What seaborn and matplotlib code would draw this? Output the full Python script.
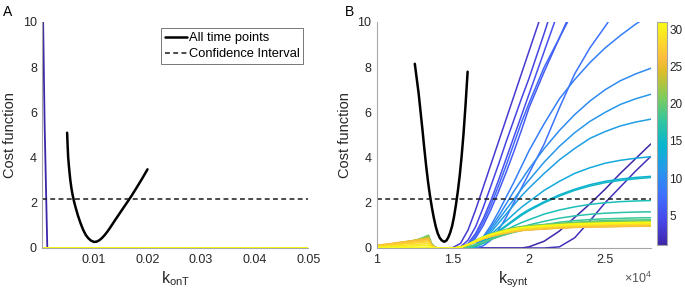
import numpy as np
import pandas as pd
import matplotlib
matplotlib.use("Agg")
import matplotlib.pyplot as plt
import seaborn as sns
from matplotlib.colors import LinearSegmentedColormap, Normalize
from matplotlib.cm import ScalarMappable
from matplotlib.lines import Line2D

# ---------------- data ----------------
time_points = list(range(1, 32))
ci_level = 2.15

# Panel A: k_onT profile (all time points) and per-time-point curves
konT_all = [0.0050, 0.0051, 0.0052, 0.0054, 0.0056, 0.0058, 0.0060, 0.0063, 0.0066,
            0.0070, 0.0075, 0.0080, 0.0085, 0.0090, 0.0095, 0.0100, 0.0105, 0.0110,
            0.0115, 0.0120, 0.0125, 0.0130, 0.0140, 0.0150, 0.0160, 0.0170, 0.0180,
            0.0190, 0.0200]
cost_A_all = [5.10, 4.50, 4.00, 3.45, 3.00, 2.65, 2.38, 2.05, 1.78,
              1.45, 1.10, 0.80, 0.57, 0.42, 0.32, 0.27, 0.28, 0.34,
              0.44, 0.57, 0.72, 0.89, 1.25, 1.60, 1.95, 2.30, 2.68,
              3.07, 3.48]
konT_grid = [0.0004, 0.0008, 0.0013, 0.0500]
cost_A_t1 = [12.0, 5.5, 0.0, 0.0]
cost_A_other = [0.0, 0.0, 0.0, 0.0]

# Panel B: k_synt profile (all time points)
ksynt_all = [12500, 12625, 12750, 12875, 13000, 13125, 13250, 13375, 13500, 13625,
             13750, 13875, 14000, 14125, 14250, 14375, 14460, 14575, 14700, 14825,
             14950, 15075, 15200, 15325, 15450, 15575, 15700, 15835, 15970]
cost_B_all = [8.15, 7.5, 6.85, 6.05, 5.25, 4.4, 3.6, 2.9, 2.3, 1.78,
              1.33, 0.95, 0.66, 0.46, 0.35, 0.29, 0.28, 0.33, 0.47, 0.68,
              0.97, 1.38, 1.9, 2.5, 3.2, 4.05, 5.05, 6.35, 7.8]

# Panel B: per-time-point curves on a shared k_synt grid
ksynt = [10000, 10500, 11000, 11500, 12000, 12500, 13000, 13400, 13600, 13800,
         14000, 14500, 15000, 15500, 16000, 16500, 17000, 17500, 18000, 18500, 19000, 19500, 20000,
         21000, 22000, 23000, 24000, 25000, 26000, 27000, 28000]
ksynt_ticks = [10000, 15000, 20000, 25000]
ksynt_tick_labels = ["1", "1.5", "2", "2.5"]

cost_B_early = [
    # t1
    [0, 0, 0, 0, 0, 0, 0, 0, 0, 0,
     0, 0, 0, 0, 0, 0, 0, 0, 0, 0, 0, 0, 0.05,
     0.3, 0.75, 1.35, 1.95, 2.6, 3.3, 3.95, 4.6],
    # t2
    [0, 0, 0, 0, 0, 0, 0, 0, 0, 0,
     0, 0, 0, 0, 0, 0, 0, 0, 0, 0, 0, 0, 0,
     0, 0.05, 0.45, 1.2, 2.0, 2.7, 3.4, 4.05],
    # t3
    [0, 0, 0, 0, 0, 0, 0, 0, 0, 0,
     0, 0, 0.02, 0.2, 0.8, 1.7, 2.7, 3.7, 4.7, 5.7, 6.7, 7.7, 8.7,
     10.7, 12.7, 14.7, 16.7, 18.7, 20.7, 22.7, 24.7],
    # t4
    [0, 0, 0, 0, 0, 0, 0, 0, 0, 0,
     0, 0, 0, 0.05, 0.35, 0.95, 1.8, 2.75, 3.7, 4.7, 5.65, 6.6, 7.5,
     9.5, 11.6, 13.7, 15.8, 17.9, 20.0, 22.1, 24.2],
    # t5
    [0, 0, 0, 0, 0, 0, 0, 0, 0, 0,
     0, 0, 0, 0.02, 0.2, 0.65, 1.3, 2.1, 3.0, 3.95, 4.9, 5.85, 6.8,
     8.7, 10.6, 12.5, 14.4, 16.3, 18.2, 20.1, 22.0],
    # t6
    [0, 0, 0, 0, 0, 0, 0, 0, 0, 0,
     0, 0, 0, 0, 0.1, 0.45, 1.0, 1.7, 2.5, 3.35, 4.25, 5.2, 6.2,
     7.8, 9.3, 10.8, 12.3, 13.8, 15.3, 16.8, 18.3],
    # t7
    [0, 0, 0, 0, 0, 0, 0, 0, 0, 0,
     0, 0, 0, 0, 0.15, 0.55, 1.15, 1.9, 2.75, 3.65, 4.6, 5.55, 6.4,
     8.0, 9.3, 10.6, 11.8, 13.0, 14.2, 15.4, 16.6],
    # t8
    [0, 0, 0, 0, 0, 0, 0, 0, 0, 0,
     0, 0, 0, 0, 0, 0, 0.1, 0.35, 0.8, 1.35, 2.0, 2.65, 3.3,
     4.6, 6.2, 7.7, 8.85, 9.8, 10.8, 11.8, 12.8],
    # t9
    [0, 0, 0, 0, 0, 0, 0, 0, 0, 0,
     0, 0, 0, 0, 0, 0.15, 0.5, 1.0, 1.6, 2.25, 2.9, 3.6, 4.3,
     5.5, 6.6, 7.45, 8.2, 8.85, 9.4, 9.9, 10.35],
]

cost_B_mid = [
    # t10
    [0, 0, 0, 0, 0, 0, 0, 0, 0, 0,
     0, 0, 0, 0, 0, 0.15, 0.45, 0.9, 1.4, 1.95, 2.5, 3.0, 3.5,
     4.4, 5.2, 5.9, 6.5, 7.0, 7.4, 7.7, 7.95],
    # t11
    [0, 0, 0, 0, 0, 0, 0, 0, 0, 0,
     0, 0, 0, 0, 0, 0.12, 0.4, 0.8, 1.25, 1.7, 2.15, 2.6, 3.0,
     3.8, 4.5, 5.1, 5.6, 6.0, 6.35, 6.6, 6.8],
    # t12
    [0, 0, 0, 0, 0, 0, 0, 0, 0, 0,
     0, 0, 0, 0, 0, 0.1, 0.35, 0.7, 1.1, 1.5, 1.9, 2.3, 2.65,
     3.3, 3.9, 4.4, 4.85, 5.15, 5.4, 5.57, 5.7],
    # t13
    [0, 0, 0, 0, 0, 0, 0, 0, 0, 0,
     0, 0, 0, 0, 0, 0.1, 0.3, 0.6, 0.9, 1.2, 1.5, 1.8, 2.05,
     2.55, 2.95, 3.3, 3.55, 3.75, 3.88, 3.97, 4.04],
    # t14
    [0, 0, 0, 0, 0, 0, 0, 0, 0, 0,
     0, 0, 0, 0, 0, 0.08, 0.25, 0.5, 0.75, 1.0, 1.25, 1.5, 1.7,
     2.05, 2.35, 2.6, 2.8, 2.95, 3.05, 3.12, 3.17],
    # t15
    [0, 0, 0, 0, 0, 0, 0, 0, 0, 0,
     0, 0, 0, 0, 0, 0.07, 0.23, 0.47, 0.72, 0.96, 1.2, 1.44, 1.65,
     2.0, 2.3, 2.55, 2.74, 2.89, 2.99, 3.06, 3.12],
    # t16
    [0, 0, 0, 0, 0, 0, 0, 0, 0, 0,
     0, 0, 0, 0, 0, 0.07, 0.2, 0.4, 0.6, 0.8, 0.97, 1.12, 1.25,
     1.5, 1.68, 1.82, 1.93, 2.0, 2.05, 2.08, 2.1],
    # t17
    [0, 0, 0, 0, 0, 0, 0, 0, 0, 0,
     0, 0, 0, 0, 0.03, 0.1, 0.22, 0.38, 0.52, 0.67, 0.8, 0.92, 1.02,
     1.18, 1.32, 1.42, 1.49, 1.54, 1.57, 1.59, 1.6],
    # t18
    [0, 0, 0, 0, 0, 0, 0, 0, 0, 0,
     0, 0, 0, 0, 0.05, 0.13, 0.25, 0.38, 0.5, 0.62, 0.72, 0.82, 0.9,
     1.03, 1.14, 1.21, 1.26, 1.29, 1.31, 1.33, 1.34],
    # t19
    [0, 0, 0, 0, 0, 0, 0, 0, 0, 0,
     0, 0, 0, 0, 0.06, 0.15, 0.27, 0.39, 0.5, 0.6, 0.69, 0.77, 0.84,
     0.96, 1.06, 1.13, 1.18, 1.21, 1.23, 1.24, 1.25],
]

cost_B_late = [
    # t20
    [0.03, 0.07, 0.12, 0.18, 0.25, 0.33, 0.45, 0.57, 0.2, 0.05,
     0, 0, 0, 0.04, 0.17, 0.34, 0.5, 0.63, 0.73, 0.82, 0.9, 0.95, 0.99,
     1.04, 1.09, 1.12, 1.15, 1.17, 1.18, 1.19, 1.2],
    # t21
    [0.04, 0.08, 0.13, 0.19, 0.26, 0.33, 0.43, 0.52, 0.18, 0.04,
     0, 0, 0, 0.04, 0.16, 0.33, 0.49, 0.61, 0.71, 0.8, 0.87, 0.93, 0.96,
     1.02, 1.06, 1.09, 1.12, 1.14, 1.15, 1.16, 1.17],
    # t22
    [0.05, 0.09, 0.14, 0.2, 0.26, 0.33, 0.41, 0.48, 0.16, 0.04,
     0, 0, 0, 0.03, 0.16, 0.32, 0.48, 0.6, 0.69, 0.78, 0.85, 0.9, 0.94,
     0.99, 1.03, 1.07, 1.09, 1.11, 1.12, 1.13, 1.14],
    # t23
    [0.08, 0.12, 0.17, 0.22, 0.28, 0.34, 0.4, 0.46, 0.15, 0.03,
     0, 0, 0, 0.03, 0.14, 0.28, 0.42, 0.52, 0.61, 0.68, 0.75, 0.79, 0.82,
     0.87, 0.91, 0.93, 0.95, 0.97, 0.98, 0.99, 1.0],
    # t24
    [0.1, 0.14, 0.19, 0.24, 0.29, 0.34, 0.39, 0.44, 0.14, 0.03,
     0, 0, 0, 0.03, 0.14, 0.28, 0.41, 0.51, 0.6, 0.67, 0.73, 0.78, 0.81,
     0.85, 0.89, 0.92, 0.94, 0.95, 0.96, 0.97, 0.98],
    # t25
    [0.12, 0.16, 0.2, 0.25, 0.29, 0.34, 0.38, 0.42, 0.13, 0.02,
     0, 0, 0, 0.03, 0.14, 0.27, 0.41, 0.51, 0.59, 0.66, 0.72, 0.77, 0.8,
     0.84, 0.88, 0.91, 0.93, 0.94, 0.95, 0.96, 0.97],
    # t26
    [0.12, 0.15, 0.19, 0.23, 0.27, 0.31, 0.35, 0.39, 0.12, 0.02,
     0, 0, 0, 0.03, 0.14, 0.28, 0.41, 0.51, 0.6, 0.67, 0.73, 0.78, 0.81,
     0.85, 0.89, 0.92, 0.94, 0.95, 0.96, 0.97, 0.98],
    # t27
    [0.1, 0.13, 0.16, 0.2, 0.23, 0.27, 0.3, 0.34, 0.1, 0.02,
     0, 0, 0, 0.03, 0.14, 0.28, 0.42, 0.52, 0.61, 0.68, 0.75, 0.79, 0.82,
     0.87, 0.91, 0.93, 0.95, 0.97, 0.98, 0.99, 1.0],
    # t28
    [0.08, 0.1, 0.13, 0.16, 0.19, 0.22, 0.25, 0.28, 0.08, 0.01,
     0, 0, 0, 0.03, 0.15, 0.29, 0.44, 0.55, 0.64, 0.71, 0.78, 0.83, 0.86,
     0.91, 0.95, 0.98, 1.0, 1.02, 1.03, 1.04, 1.05],
    # t29
    [0.05, 0.07, 0.09, 0.11, 0.13, 0.15, 0.18, 0.2, 0.06, 0.01,
     0, 0, 0, 0.03, 0.15, 0.3, 0.45, 0.57, 0.66, 0.73, 0.8, 0.86, 0.89,
     0.94, 0.98, 1.01, 1.03, 1.05, 1.06, 1.07, 1.08],
    # t30
    [0.03, 0.04, 0.05, 0.06, 0.08, 0.09, 0.11, 0.12, 0.04, 0.0,
     0, 0, 0, 0.03, 0.16, 0.31, 0.47, 0.58, 0.68, 0.75, 0.82, 0.88, 0.91,
     0.96, 1.0, 1.03, 1.06, 1.08, 1.09, 1.1, 1.11],
    # t31
    [0.0, 0.01, 0.01, 0.02, 0.02, 0.03, 0.03, 0.04, 0.01, 0.0,
     0, 0, 0, 0.03, 0.16, 0.32, 0.48, 0.6, 0.69, 0.78, 0.85, 0.9, 0.94,
     0.99, 1.03, 1.07, 1.09, 1.11, 1.12, 1.13, 1.14],
]

# ---------------- style ----------------
sns.set_style("white")
plt.rcParams["font.family"] = ["Liberation Sans", "DejaVu Sans"]
plt.rcParams["mathtext.fontset"] = "custom"
plt.rcParams["mathtext.rm"] = "Liberation Sans"
plt.rcParams["mathtext.it"] = "Liberation Sans:italic"

parula_anchors = [
    (0.000, (0.2422, 0.1504, 0.6603)),
    (7 / 63, (0.2803, 0.2782, 0.9221)),
    (14 / 63, (0.2440, 0.4358, 0.9988)),
    (21 / 63, (0.1540, 0.5902, 0.9218)),
    (28 / 63, (0.0297, 0.7082, 0.8163)),
    (35 / 63, (0.1938, 0.7758, 0.6251)),
    (42 / 63, (0.5044, 0.7993, 0.3480)),
    (49 / 63, (0.8634, 0.7406, 0.1596)),
    (53 / 63, (0.9956, 0.7434, 0.2371)),
    (56 / 63, (0.9892, 0.8136, 0.1885)),
    (1.000, (0.9769, 0.9839, 0.0805)),
]
parula = LinearSegmentedColormap.from_list("parula", parula_anchors)
tnorm = Normalize(vmin=1, vmax=31)

SPINE = "#a6a6a6"
TXT = "#262626"
DASH = (0, (3.2, 2.2))

fig = plt.figure(figsize=(6.85, 2.97), dpi=100)
axA = fig.add_axes([0.062, 0.165, 0.388, 0.761])
axB = fig.add_axes([0.550, 0.165, 0.400, 0.761])
cax = fig.add_axes([0.9596, 0.175, 0.0137, 0.751])

# ---------------- panel A ----------------
rowsA = [cost_A_t1] + [cost_A_other] * (len(time_points) - 1)
dfA = pd.DataFrame({
    "konT": np.tile(konT_grid, len(time_points)),
    "cost": np.concatenate(rowsA),
    "time": np.repeat(time_points, len(konT_grid)),
})
sns.lineplot(data=dfA, x="konT", y="cost", hue="time", palette=parula, hue_norm=tnorm,
             estimator=None, sort=False, legend=False, lw=1.3, ax=axA)
sns.lineplot(x=konT_all, y=cost_A_all, color="black", lw=1.8, sort=False,
             estimator=None, ax=axA)
axA.axhline(ci_level, color="#1a1a1a", ls=DASH, lw=1.1)

axA.set_xlim(0.0004, 0.05)
axA.set_ylim(0, 10)
axA.set_xticks([0.01, 0.02, 0.03, 0.04, 0.05])
axA.set_yticks([0, 2, 4, 6, 8, 10])
axA.set_xlabel(r"$\mathregular{k_{onT}}$", fontsize=11.5, color=TXT, labelpad=3)
axA.set_ylabel("Cost function", fontsize=10.5, color=TXT, labelpad=4)

handles = [Line2D([0], [0], color="black", lw=1.8),
           Line2D([0], [0], color="#1a1a1a", lw=1.1, ls=DASH)]
leg = axA.legend(handles, ["All time points", "Confidence Interval"],
                 loc="upper right", bbox_to_anchor=(0.982, 0.972), fontsize=9.3,
                 frameon=True, fancybox=False, borderpad=0.3, labelspacing=0.3,
                 handlelength=1.7, handletextpad=0.15, borderaxespad=0)
leg.get_frame().set_edgecolor("#555555")
leg.get_frame().set_linewidth(0.7)
for t in leg.get_texts():
    t.set_color("black")

# ---------------- panel B ----------------
rowsB = cost_B_early + cost_B_mid + cost_B_late
dfB = pd.DataFrame({
    "ksynt": np.tile(ksynt, len(time_points)),
    "cost": np.concatenate(rowsB),
    "time": np.repeat(time_points, len(ksynt)),
})
sns.lineplot(data=dfB, x="ksynt", y="cost", hue="time", palette=parula, hue_norm=tnorm,
             estimator=None, sort=False, legend=False, lw=1.1, ax=axB)
sns.lineplot(x=ksynt_all, y=cost_B_all, color="black", lw=1.8, sort=False,
             estimator=None, ax=axB)
axB.axhline(ci_level, color="#1a1a1a", ls=DASH, lw=1.1)

axB.set_xlim(10000, 28000)
axB.set_ylim(0, 10)
axB.set_xticks(ksynt_ticks)
axB.set_xticklabels(ksynt_tick_labels)
axB.set_yticks([0, 2, 4, 6, 8, 10])
axB.set_xlabel(r"$\mathregular{k_{synt}}$", fontsize=11.5, color=TXT, labelpad=3)
axB.set_ylabel("Cost function", fontsize=10.5, color=TXT, labelpad=4)
axB.text(1.005, -0.135, r"$\times\mathregular{10^{4}}$", transform=axB.transAxes,
         ha="right", va="center", fontsize=9, color="#555555")

for ax in (axA, axB):
    for s in ("top", "right"):
        ax.spines[s].set_visible(False)
    for s in ("left", "bottom"):
        ax.spines[s].set_color(SPINE)
        ax.spines[s].set_linewidth(0.8)
    ax.tick_params(direction="in", length=3, width=0.6, color=SPINE,
                   labelcolor=TXT, labelsize=9, pad=4)

# ---------------- colorbar ----------------
cb = fig.colorbar(ScalarMappable(norm=tnorm, cmap=parula), cax=cax,
                  ticks=[5, 10, 15, 20, 25, 30])
cb.outline.set_edgecolor(SPINE)
cb.outline.set_linewidth(0.8)
cb.ax.tick_params(direction="in", length=3, width=0.6, color=SPINE,
                  labelcolor=TXT, labelsize=8.5, pad=2)

# panel letters
fig.text(0.004, 0.958, "A", fontsize=10, color="black", va="center", ha="left")
fig.text(0.503, 0.958, "B", fontsize=10, color="black", va="center", ha="left")

fig.savefig("out.png", dpi=100)
